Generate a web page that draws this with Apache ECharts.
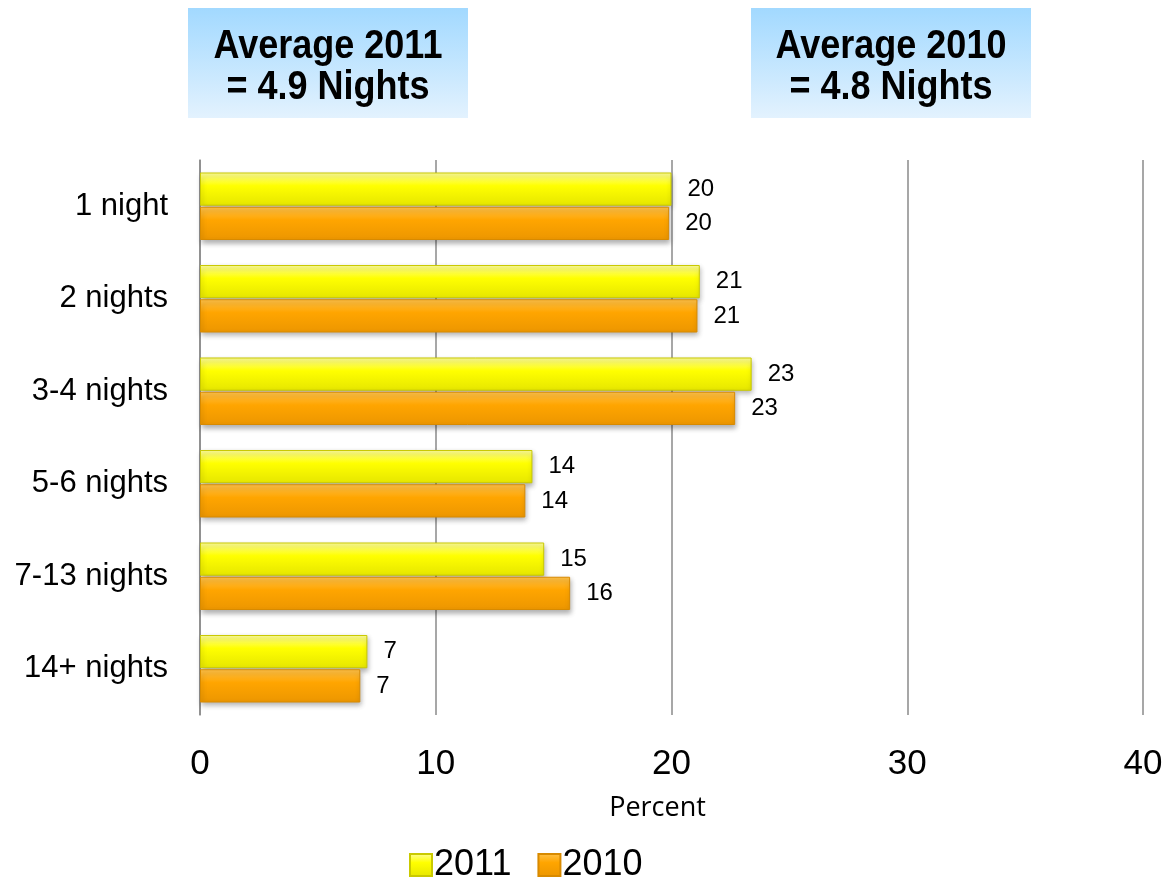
<!DOCTYPE html>
<html>
<head>
<meta charset="utf-8">
<script src="https://cdn.jsdelivr.net/npm/echarts@6/dist/echarts.min.js"></script>
<style>
  html, body { margin: 0; padding: 0; background: #fff; }
  #chart-nights { width: 1168px; height: 881px; }
</style>
</head>
<body>
<div id="chart-nights"></div>
<script>
const categories = ['1 night', '2 nights', '3-4 nights', '5-6 nights', '7-13 nights', '14+ nights'];
const values2011 = [20.0, 21.2, 23.4, 14.1, 14.6, 7.1];
const values2010 = [19.9, 21.1, 22.7, 13.8, 15.7, 6.8];
const averages = ['Average 2011\n= 4.9 Nights', 'Average 2010\n= 4.8 Nights'];

const FONT = '"Liberation Sans", Arial, sans-serif';

const element = document.getElementById('chart-nights');
const chart = echarts.init(element);

// vertical gradient with a lighter top edge, like the bevelled bars
function barGradient(top, mid, bottom) {
    return new echarts.graphic.LinearGradient(0, 0, 0, 1, [
        { offset: 0, color: top },
        { offset: 0.4, color: mid },
        { offset: 1, color: bottom }
    ]);
}

function boxGradient() {
    return new echarts.graphic.LinearGradient(0, 0, 0, 1, [
        { offset: 0, color: '#a2d9ff' },
        { offset: 1, color: '#e3f2fe' }
    ]);
}

// light blue box holding one of the averages
function averageBox(left, text) {
    return {
        type: 'group',
        left: left,
        top: 8,
        children: [
            {
                type: 'rect',
                shape: { x: 0, y: 0, width: 280, height: 110 },
                style: { fill: boxGradient() }
            },
            {
                type: 'text',
                x: 140,
                y: 59,
                scaleX: 0.9,
                style: {
                    text: text,
                    align: 'center',
                    verticalAlign: 'middle',
                    font: 'bold 40px ' + FONT,
                    lineHeight: 41,
                    fill: '#000'
                }
            }
        ]
    };
}

const labelStyle = {
    show: true,
    position: 'right',
    distance: 16,
    fontSize: 24,
    fontFamily: FONT,
    color: '#000',
    formatter: (p) => Math.round(p.value)
};

var option = {
    animation: false,
    backgroundColor: '#fff',
    grid: { left: 200, right: 25, top: 160, bottom: 166 },
    legend: {
        left: 404,
        top: 842,
        itemWidth: 22,
        itemHeight: 22,
        itemGap: 26,
        icon: 'rect',
        textStyle: {
            fontSize: 36,
            fontFamily: FONT,
            color: '#000',
            padding: [0, 0, 0, -3]
        },
        data: ['2011', '2010']
    },
    xAxis: {
        type: 'value',
        min: 0,
        max: 40,
        interval: 10,
        name: 'Percent',
        nameLocation: 'middle',
        nameGap: 80,
        nameTextStyle: {
            fontSize: 27,
            fontFamily: '"Open Sans", "Noto Sans", sans-serif',
            color: '#000',
            padding: [0, 28, 0, 0]
        },
        axisLine: { show: false },
        axisTick: { show: false },
        axisLabel: {
            margin: 32,
            fontSize: 35,
            fontFamily: FONT,
            color: '#000'
        },
        splitLine: { lineStyle: { color: '#8a8a8a', width: 1.5 } }
    },
    yAxis: {
        type: 'category',
        inverse: true,
        data: categories,
        axisLine: { lineStyle: { color: '#8a8a8a', width: 1.5 } },
        axisTick: { show: false },
        axisLabel: {
            margin: 32,
            fontSize: 31,
            fontFamily: FONT,
            color: '#000'
        }
    },
    series: [
        {
            name: '2011',
            type: 'bar',
            data: values2011,
            barCategoryGap: '27%',
            barGap: '3%',
            label: labelStyle,
            itemStyle: {
                color: barGradient('#fdfd9c', '#ffff00', '#e6e600'),
                borderColor: '#c9c900',
                borderWidth: 1,
                shadowBlur: 5,
                shadowOffsetX: 1,
                shadowOffsetY: 3,
                shadowColor: 'rgba(0,0,0,0.3)'
            }
        },
        {
            name: '2010',
            type: 'bar',
            data: values2010,
            label: labelStyle,
            itemStyle: {
                color: barGradient('#ffc24a', '#ffa500', '#ec9600'),
                borderColor: '#d88a00',
                borderWidth: 1,
                shadowBlur: 5,
                shadowOffsetX: 1,
                shadowOffsetY: 3,
                shadowColor: 'rgba(0,0,0,0.3)'
            }
        }
    ],
    graphic: [
        averageBox(188, averages[0]),
        averageBox(751, averages[1])
    ]
};

option && chart.setOption(option);
</script>
</body>
</html>
